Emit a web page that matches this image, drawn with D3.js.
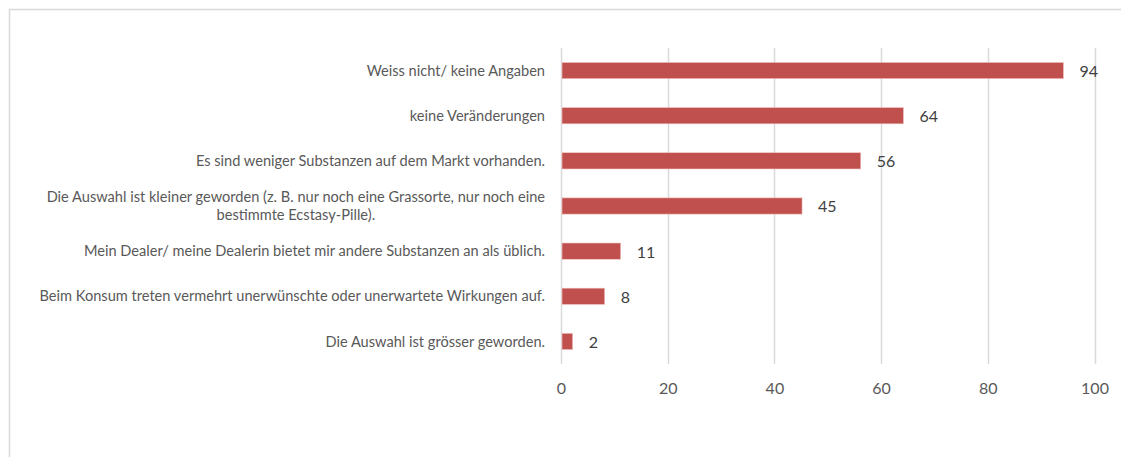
<!DOCTYPE html>
<html>
<head>
<meta charset="utf-8">
<script src="https://cdn.jsdelivr.net/npm/d3@7"></script>
<style>
  body { margin: 0; background: #fff; }
  svg { display: block; font-family: Lato, "Open Sans", sans-serif; }
</style>
</head>
<body>
<svg id="chart" width="1121" height="457"></svg>
<script>
// categories, top to bottom
var categories = [
    'Weiss nicht/ keine Angaben',
    'keine Veränderungen',
    'Es sind weniger Substanzen auf dem Markt vorhanden.',
    'Die Auswahl ist kleiner geworden (z. B. nur noch eine Grassorte, nur noch eine|bestimmte Ecstasy-Pille).',
    'Mein Dealer/ meine Dealerin bietet mir andere Substanzen an als üblich.',
    'Beim Konsum treten vermehrt unerwünschte oder unerwartete Wirkungen auf.',
    'Die Auswahl ist grösser geworden.'
];
var values = [94, 64, 56, 45, 11, 8, 2];
var ticks = [0, 20, 40, 60, 80, 100];

var svg = d3.select('#chart');

// chart area border (right and bottom edges fall outside the picture)
svg.append('rect')
    .attr('x', 9.5).attr('y', 9.5)
    .attr('width', 1300).attr('height', 600)
    .attr('fill', 'none')
    .attr('stroke', '#d9d9d9')
    .attr('stroke-width', 1.5);

var x = d3.scaleLinear().domain([0, 100]).range([561, 1094.5]);
var y = d3.scaleBand().domain(d3.range(categories.length)).range([48, 364]).paddingInner(0.64).paddingOuter(0.32);

// gridlines
svg.append('g').selectAll('line')
    .data(ticks)
    .enter().append('line')
    .attr('x1', function(d){ return Math.round(x(d)) + 0.5; })
    .attr('x2', function(d){ return Math.round(x(d)) + 0.5; })
    .attr('y1', 48).attr('y2', 364)
    .attr('stroke', '#d9d9d9')
    .attr('stroke-width', 1.5);

// x axis labels
var xAxis = d3.axisBottom(x).tickValues(ticks).tickSize(0).tickPadding(0);
var ax = svg.append('g').attr('transform', 'translate(0,383)').call(xAxis);
ax.select('.domain').remove();
ax.selectAll('text')
    .attr('dy', '0.71em')
    .attr('fill', '#595959')
    .style('font-size', '16px')
    .style('font-family', 'Lato, "Open Sans", sans-serif');

// bars
svg.append('g').selectAll('rect')
    .data(values)
    .enter().append('rect')
    .attr('x', x(0) + 1)
    .attr('y', function(d, i){ return y(i); })
    .attr('width', function(d){ return x(d) - x(0); })
    .attr('height', y.bandwidth())
    .attr('fill', '#c0504d')
    .attr('stroke', '#f2c4c2')
    .attr('stroke-width', 0.6);

// value labels
svg.append('g').selectAll('text')
    .data(values)
    .enter().append('text')
    .attr('x', function(d){ return x(d) + 17; })
    .attr('y', function(d, i){ return y(i) + y.bandwidth() / 2; })
    .attr('dy', '0.4em')
    .attr('fill', '#404040')
    .style('font-size', '16px')
    .text(function(d){ return d; });

// category labels
var lab = svg.append('g').selectAll('text')
    .data(categories)
    .enter().append('text')
    .attr('y', function(d, i){ return y(i) + y.bandwidth() / 2; })
    .attr('fill', '#595959')
    .style('font-size', '14.6px');

lab.each(function(d){
    var t = d3.select(this);
    var lines = d.split('|');
    if (lines.length === 1) {
        t.attr('x', 545).attr('text-anchor', 'end').attr('dy', '0.35em').text(d);
    } else {
        // two-line label: centred block ending at the label column
        t.attr('text-anchor', 'middle');
        var tmp = t.append('tspan').text(lines[0]);
        var w = tmp.node().getComputedTextLength();
        tmp.remove();
        var cx = 545 - w / 2;
        lines.forEach(function(l, k){
            t.append('tspan')
                .attr('x', cx)
                .attr('dy', k === 0 ? '-0.25em' : '1.18em')
                .text(l);
        });
    }
});
</script>
</body>
</html>
